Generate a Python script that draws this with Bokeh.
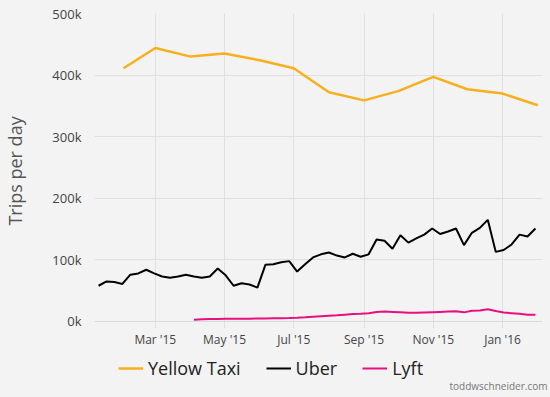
import pandas as pd
from datetime import datetime
from bokeh.plotting import figure
from bokeh.layouts import column
from bokeh.models import (FixedTicker, Span, Legend, LegendItem, Label, Range1d)
from bokeh.embed import file_html
from bokeh.resources import INLINE

# ---------------- data ----------------
taxi_dates = ["2015-02-01", "2015-03-01", "2015-04-01", "2015-05-01", "2015-06-01",
              "2015-07-01", "2015-08-01", "2015-09-01", "2015-10-01", "2015-11-01",
              "2015-12-01", "2016-01-01", "2016-02-01"]
taxi_trips = [411000, 444000, 430000, 435000, 424000, 411000, 372000, 359000,
              374000, 397000, 377000, 370000, 351000]

weekly_start = "2015-01-10"
uber_trips = [58000, 65000, 64000, 61000, 76000, 78000, 84000, 78000, 73000, 71000,
              73000, 76000, 73000, 71000, 73000, 86000, 75000, 58000, 62000, 60000,
              55000, 92000, 93000, 96000, 98000, 81000, 93000, 104000, 109000, 112000,
              107000, 104000, 110000, 105000, 109000, 133000, 131000, 118000, 140000, 128000,
              135000, 141000, 151000, 142000, 146000, 151000, 124000, 144000, 152000, 165000,
              113000, 116000, 125000, 141000, 138000, 151000]
lyft_trips = [2800, 3500, 4000, 4200, 4300, 4400, 4500, 4600, 4800, 5000,
              5200, 5300, 5500, 6000, 6800, 7800, 8600, 9300, 10000, 11000,
              12000, 12500, 13500, 15500, 16000, 15500, 15000, 14000, 14000, 14500,
              15000, 15500, 16000, 16500, 14800, 17500, 18000, 20000, 17000, 14500,
              13500, 12500, 11000, 10800]

x_tick_dates = ["2015-03-01", "2015-05-01", "2015-07-01", "2015-09-01", "2015-11-01", "2016-01-01"]
x_tick_labels = ["Mar '15", "May '15", "Jul '15", "Sep '15", "Nov '15", "Jan '16"]
y_ticks = [0, 100000, 200000, 300000, 400000, 500000]
y_tick_labels = ["0k", "100k", "200k", "300k", "400k", "500k"]

series_names = ["Yellow Taxi", "Uber", "Lyft"]
series_colors = ["#f7b01c", "#000000", "#e8107f"]
series_widths = [2.5, 2, 2]

# ---------------- derived ----------------
taxi_x = pd.to_datetime(taxi_dates)
uber_x = pd.date_range(weekly_start, periods=len(uber_trips), freq="7D")
lyft_x = uber_x[len(uber_trips) - len(lyft_trips):]

def ms(d):
    return int(pd.Timestamp(d).value // 10**6)

x_ticks = [ms(d) for d in x_tick_dates]

BG = "#f3f3f3"
FONT = "Open Sans"

fig = figure(width=550, height=350, x_axis_type="datetime",
             output_backend="svg", toolbar_location=None,
             x_range=Range1d(datetime(2015, 1, 6, 10), datetime(2016, 2, 5, 5)),
             y_range=Range1d(-11400, 500000),
             min_border_left=93, min_border_right=8, min_border_top=13, min_border_bottom=22,
             background_fill_color=BG, border_fill_color=BG)
fig.outline_line_color = None
fig.frame_align = False

# axes
fig.xaxis.ticker = FixedTicker(ticks=x_ticks)
fig.xaxis.major_label_overrides = {t: l for t, l in zip(x_ticks, x_tick_labels)}
fig.yaxis.ticker = FixedTicker(ticks=y_ticks)
fig.yaxis.major_label_overrides = {t: l for t, l in zip(y_ticks, y_tick_labels)}
for ax in (fig.xaxis, fig.yaxis):
    ax.axis_line_color = None
    ax.major_tick_line_color = None
    ax.minor_tick_line_color = None
    ax.major_tick_out = 0
    ax.minor_tick_out = 0
    ax.major_label_text_font = FONT
    ax.major_label_text_color = "#444444"
fig.xaxis.major_label_text_font_size = "12px"
fig.xaxis.major_label_standoff = 2
fig.yaxis.major_label_text_font_size = "13px"
fig.yaxis.major_label_standoff = 13
fig.yaxis.axis_label = "Trips per day"
fig.yaxis.axis_label_text_font = FONT
fig.yaxis.axis_label_text_font_size = "18px"
fig.yaxis.axis_label_text_font_style = "normal"
fig.yaxis.axis_label_text_color = "#555555"
fig.yaxis.axis_label_standoff = 22

# grid
fig.xgrid.grid_line_color = "#e0e0e0"
fig.ygrid.grid_line_color = "#e0e0e0"
fig.ygrid.ticker = FixedTicker(ticks=y_ticks[1:])
fig.add_layout(Span(location=0, dimension="width", line_color="#d3dce6",
                    line_width=1, level="underlay"))

# lines
fig.line(taxi_x, taxi_trips, line_color=series_colors[0], line_width=series_widths[0])
fig.line(uber_x, uber_trips, line_color=series_colors[1], line_width=series_widths[1])
fig.line(lyft_x, lyft_trips, line_color=series_colors[2], line_width=series_widths[2])

# ---------------- legend strip ----------------
leg = figure(width=550, height=47, output_backend="svg", toolbar_location=None,
             x_axis_location=None, y_axis_location=None,
             x_range=Range1d(0, 1), y_range=Range1d(0, 1),
             min_border_left=0, min_border_right=0, min_border_top=0, min_border_bottom=0,
             background_fill_color=BG, border_fill_color=BG)
leg.outline_line_color = None
leg.frame_align = False
leg.xgrid.visible = False
leg.ygrid.visible = False
items = []
for name, col, w in zip(series_names, series_colors, series_widths):
    # placeholder renderer (NaN point, draws nothing) that only styles the legend key
    r = leg.line(x=[float("nan")], y=[float("nan")], line_color=col, line_width=w)
    items.append(LegendItem(label=name, renderers=[r]))
legend = Legend(items=items, orientation="horizontal", location=(118, 17),
                padding=0, margin=0, spacing=25, label_standoff=5,
                glyph_width=25, glyph_height=20, label_height=20,
                label_text_font=FONT, label_text_font_size="18px",
                label_text_color="#222222",
                background_fill_color=None, border_line_color=None)
leg.add_layout(legend, "center")
leg.add_layout(Label(x=547, y=12, x_units="screen", y_units="screen",
                     text="toddwschneider.com", text_font=FONT,
                     text_font_size="10px", text_color="#777777",
                     text_align="right", text_baseline="middle"))

p = column(fig, leg, spacing=0)

html = file_html(p, INLINE)
html = html.replace("</head>", "<style>html, body { background-color: #f3f3f3; }</style></head>", 1)
open("out.html", "w").write(html)
